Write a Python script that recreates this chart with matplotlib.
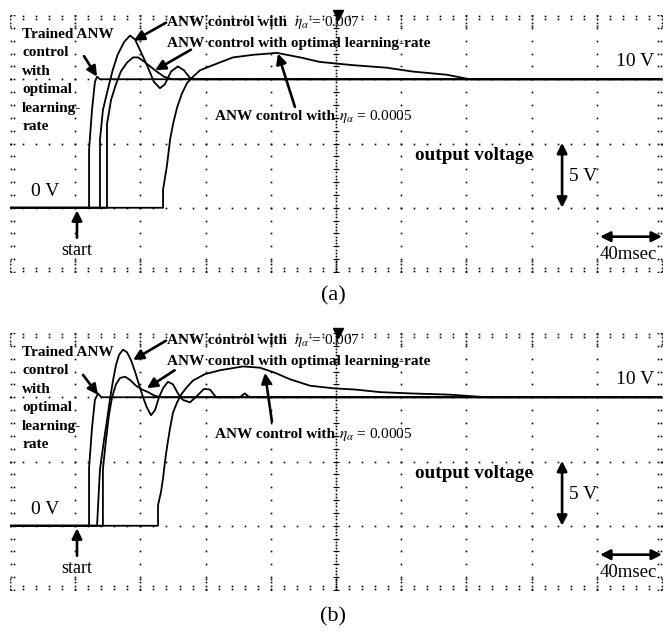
import numpy as np
import matplotlib
matplotlib.use('Agg')
import matplotlib.pyplot as plt

plt.rcParams['font.family'] = ['Liberation Serif', 'DejaVu Serif']
plt.rcParams['mathtext.fontset'] = 'stix'

# time in msec, output voltage in V
# panel (a)
a_trained_t = [0, 48.5, 48.5, 50.3, 52.1, 53.4, 55.2, 400]
a_trained_v = [0, 0, 4.5, 7.6, 9.8, 10.2, 10.0, 10.0]

a_eta007_t = [0, 55.2, 55.2, 57, 60, 63, 66, 70, 73.6, 76.7, 80.4, 84.7, 88.3, 92,
              95, 98.8, 103, 106.7, 110.4, 114, 400]
a_eta007_v = [0, 0, 5.3, 7.6, 9.2, 10.7, 11.9, 12.9, 13.4, 13.1, 12.1, 10.9, 9.8, 9.3,
              9.6, 10.6, 11.0, 10.7, 10.1, 10.0, 10.0]

a_optimal_t = [0, 59.5, 59.5, 62, 65, 68, 71.8, 75.5, 78.5, 82, 86, 90, 94.5, 99.4, 400]
a_optimal_v = [0, 0, 6.5, 8.4, 9.6, 10.6, 11.3, 11.7, 11.7, 11.4, 11.0, 10.6, 10.2, 10.0, 10.0]

a_eta0005_t = [0, 93.9, 93.9, 96.3, 98.2, 100, 102.5, 105.5, 108.6, 112.3, 116.6, 124.5,
               136.8, 149, 163.8, 178, 190, 210, 231, 247, 268, 282, 400]
a_eta0005_v = [0, 0, 1.4, 3.3, 5.3, 6.5, 7.8, 8.9, 9.7, 10.2, 10.7, 11.1,
               11.7, 11.9, 12.05, 11.7, 11.35, 11.1, 10.9, 10.6, 10.35, 10.0, 10.0]

# panel (b)
b_trained_t = [0, 48.5, 48.5, 50.3, 52.1, 54, 56, 400]
b_trained_v = [0, 0, 4.5, 7.6, 9.8, 10.3, 10.0, 10.0]

b_eta007_t = [0, 53.4, 55.2, 57.7, 59.5, 61.3, 63.2, 65, 66.9, 69.3, 71.8, 74.2, 76.7,
              79.1, 81.6, 84, 86.5, 89, 91.4, 93.9, 96.9, 100, 103, 106, 110.4, 114.7,
              119, 122.7, 126.4, 141, 144, 147, 400]
b_eta007_v = [0, 0, 4.4, 6.7, 8.2, 9.8, 11.3, 12.5, 13.3, 13.7, 13.5, 12.9, 12.0,
              11.0, 10.0, 9.2, 8.6, 9.0, 10.0, 10.7, 11.2, 11.0, 10.3, 9.8, 9.6, 10.1,
              10.65, 10.6, 10.0, 10.0, 10.3, 10.0, 10.0]

b_optimal_t = [0, 57, 57, 58.9, 60.7, 62.6, 65, 67.5, 70.6, 73.6, 77.3, 81, 84.7, 89, 93.3, 400]
b_optimal_v = [0, 0, 4.4, 6.7, 8.6, 10.0, 11.0, 11.5, 11.6, 11.35, 10.9, 10.6, 10.4, 10.1, 10.0, 10.0]

b_eta0005_t = [0, 90.8, 90.8, 92.6, 93.9, 95.1, 96.3, 98.2, 100, 102.5, 105.5, 108.6, 112.3,
               119.6, 128.8, 143, 153.4, 162.6, 171.8, 184, 198, 211.7, 227, 245.4, 270,
               292.6, 400]
b_eta0005_v = [0, 0, 1.6, 2.6, 3.7, 5.0, 6.1, 7.6, 8.8, 9.6, 10.3, 10.8, 11.3,
               11.8, 12.1, 12.4, 12.3, 11.9, 11.4, 10.9, 10.7, 10.6, 10.4, 10.3, 10.2,
               10.0, 10.0]


def scope_grid(ax):
    mx = np.arange(0, 400.1, 8)
    my = np.arange(-5, 15.1, 1)
    dot = dict(ls='none', marker='s', ms=1.2, color='k', mew=0)
    for v in [0, 5, 10]:
        ax.plot(mx, np.full_like(mx, v), **dot)
    for t in range(40, 400, 40):
        if t != 200:
            ax.plot(np.full_like(my, t), my, **dot)
    # centre line with fine dots and ticks
    fy = np.arange(-5, 15.01, 0.25)
    ax.plot(np.full_like(fy, 200), fy, **dot)
    ax.plot(np.full_like(my, 200), my, ls='none', marker='_', ms=4, mew=0.8, color='k')
    # top / bottom border
    for off in [0.1, 0.35]:
        ax.plot(mx, np.full_like(mx, 15 - off), **dot)
        ax.plot(mx, np.full_like(mx, -5 + off), **dot)
    mj = np.arange(0, 400.1, 40)
    for off in [0.6, 0.85]:
        ax.plot(mj, np.full_like(mj, 15 - off), **dot)
        ax.plot(mj, np.full_like(mj, -5 + off), **dot)
    # left / right border
    for off in [0.8, 2.4]:
        ax.plot(np.full_like(my, off), my, **dot)
        ax.plot(np.full_like(my, 400 - off), my, **dot)


def arrow(ax, tail, head, style='-|>'):
    ax.annotate('', xy=head, xytext=tail,
                arrowprops=dict(arrowstyle=style, color='k', lw=1.9,
                                mutation_scale=15, shrinkA=0, shrinkB=0))


def panel(ax, traces, arrows):
    ax.set_xlim(0, 400)
    ax.set_ylim(-5, 15)
    ax.axis('off')
    scope_grid(ax)
    for t, v in traces:
        ax.plot(t, v, color='k', lw=1.3)

    bold = dict(fontsize=11, fontweight='bold', va='center')
    ax.text(7.4, 14.0, 'Trained ANW\ncontrol\nwith\noptimal\nlearning-\nrate',
            fontsize=11, fontweight='bold', va='top', linespacing=1.55)
    ax.text(96.3, 14.4, 'ANW control with', **bold)
    ax.text(174, 14.4, r'$\eta_\alpha$ = 0.007', fontsize=11, va='center')
    ax.text(96.3, 12.8, 'ANW control with optimal learning-rate', **bold)
    ax.text(125.8, 7.1, 'ANW control with', **bold)
    ax.text(202, 7.1, r'$\eta_\alpha$ = 0.0005', fontsize=11, va='center')
    ax.text(383.4, 11.35, '10 V', fontsize=14, ha='center', va='center')
    ax.text(21.5, 1.3, '0 V', fontsize=14, ha='center', va='center')
    ax.text(41.1, -3.35, 'start', fontsize=13, ha='center', va='center')
    ax.text(248.5, 4.1, 'output voltage', fontsize=13.8, fontweight='bold', va='center')
    ax.text(343, 2.4, '5 V', fontsize=14, va='center')
    ax.text(362, -3.6, '40msec', fontsize=13.5, va='center')

    for tail, head in arrows:
        arrow(ax, tail, head)
    arrow(ax, (41.1, -2.33), (41.1, -0.2))
    arrow(ax, (338.7, 0), (338.7, 5.05), '<|-|>')
    arrow(ax, (362, -2.25), (400, -2.25), '<|-|>')
    ax.plot([201], [15], marker='v', ms=7, color='k', clip_on=False)


fig = plt.figure(figsize=(6.65, 6.33), dpi=100)
ax1 = fig.add_axes([10 / 665, 0.5703, 652 / 665, 257 / 633])
ax2 = fig.add_axes([10 / 665, 43 / 633, 652 / 665, 257 / 633])

panel(ax1,
      [(a_eta0005_t, a_eta0005_v), (a_optimal_t, a_optimal_v),
       (a_eta007_t, a_eta007_v), (a_trained_t, a_trained_v)],
      [((45.4, 11.8), (53.4, 10.2)),
       ((95.7, 14.4), (76, 13.0)),
       ((111, 12.3), (89, 10.7)),
       ((174.8, 7.85), (164.4, 12.0))])
panel(ax2,
      [(b_eta0005_t, b_eta0005_v), (b_optimal_t, b_optimal_v),
       (b_eta007_t, b_eta007_v), (b_trained_t, b_trained_v)],
      [((44.8, 11.74), (54, 10.19)),
       ((95.7, 14.4), (75.5, 12.9)),
       ((101, 12.1), (84, 10.7)),
       ((160.7, 8.1), (156.4, 11.9))])

fig.text(333 / 665, 1 - 296 / 633, '(a)', fontsize=16, ha='center', va='center')
fig.text(333 / 665, 1 - 617 / 633, '(b)', fontsize=16, ha='center', va='center')

fig.savefig('out.png', dpi=100)
